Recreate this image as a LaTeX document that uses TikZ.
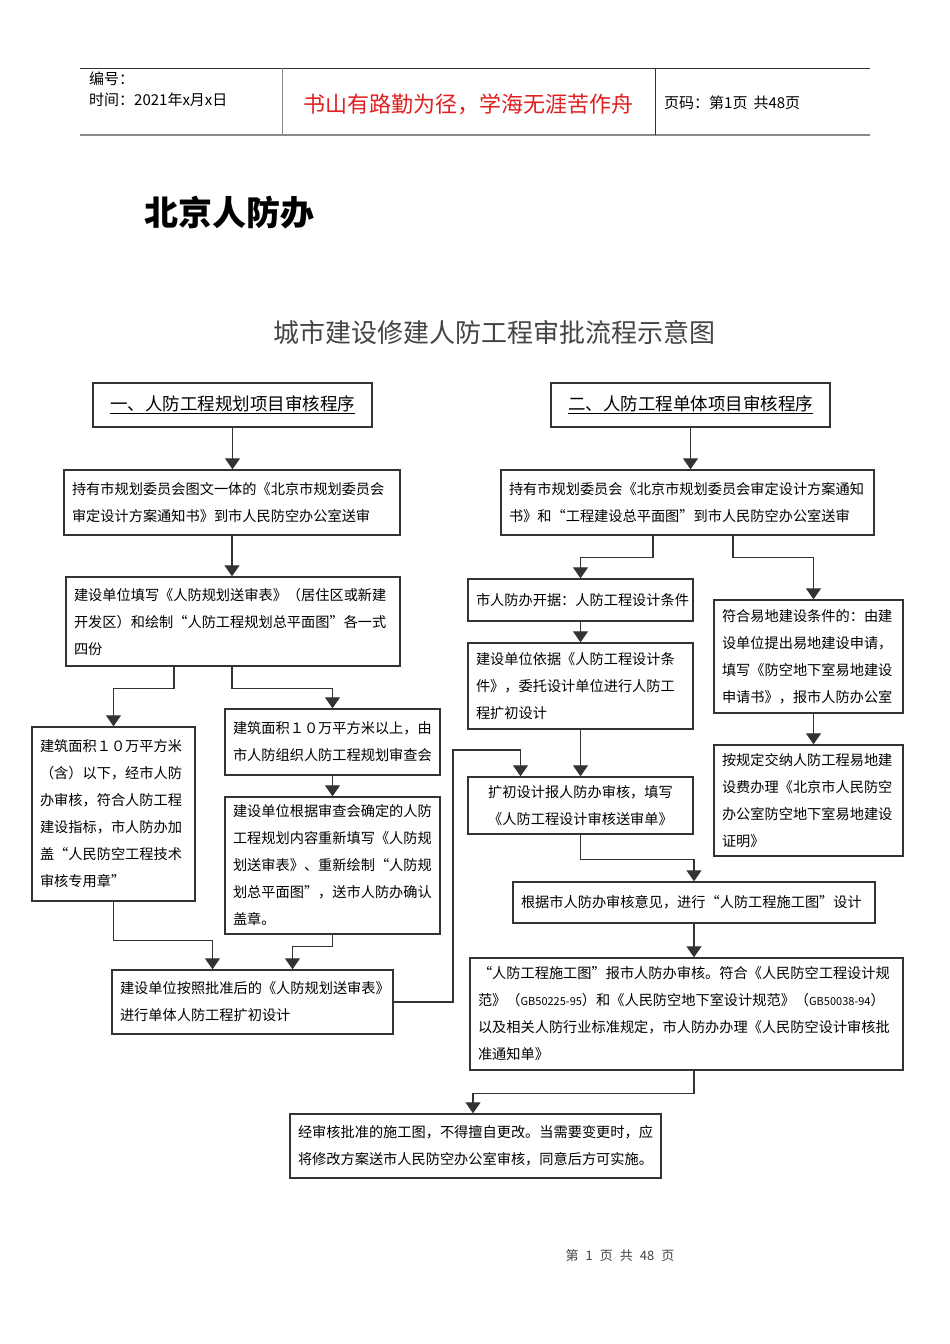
\documentclass[tikz,border=0pt]{standalone}
\usepackage{fontspec}
\setmainfont{Noto Sans CJK SC}
\usetikzlibrary{arrows.meta}
\definecolor{boxline}{HTML}{333333}
\definecolor{rulegray}{HTML}{8A8A8A}
\definecolor{mottored}{HTML}{E02020}
\definecolor{titlegray}{HTML}{444444}
\tikzset{
  stepbox/.style={draw=boxline, line width=1.4pt, inner xsep=8pt, inner ysep=0pt,
    align=left, font=\fontsize{14.2}{27}\selectfont},
  headbox/.style={draw=boxline, line width=1.4pt, minimum width=279pt, minimum height=44pt,
    font=\fontsize{17.5}{20}\selectfont},
  flow/.style={draw=boxline, line width=1.2pt, -{Triangle[width=15pt,length=11pt]}},
}
\begin{document}
\begin{tikzpicture}[x=1pt,y=-1pt]
    \path[fill=white, use as bounding box] (0,0) rectangle (950,1344);

    % 页眉
    \draw[boxline, line width=1pt] (80,68) -- (870,68);
    \draw[rulegray, line width=2pt] (80,135) -- (870,135);
    \draw[rulegray, line width=1pt] (282,68) -- (282,135);
    \draw[boxline, line width=1pt] (655,68) -- (655,135);
    \node[anchor=west, font=\fontsize{15}{18}\selectfont, inner sep=0pt] (hdid) at (89,79) {编号：};
    \node[anchor=west, font=\fontsize{15}{18}\selectfont, inner sep=0pt] (hdtime) at (89,100) {时间：2021年x月x日};
    \node[mottored, font=\fontsize{22}{26}\selectfont, inner sep=0pt] (hdmotto) at (468.5,104) {书山有路勤为径，学海无涯苦作舟};
    \node[anchor=west, font=\fontsize{15}{18}\selectfont, inner sep=0pt] (hdpage) at (664,103) {页码：第1页\hspace{6pt}共48页};

    % 标题
    \node[anchor=west, font=\fontsize{34}{40}\selectfont\bfseries, inner sep=0pt] (heading) at (144,213) {北京人防办};
    \node[titlegray, font=\fontsize{26}{30}\selectfont, inner sep=0pt] (title) at (494.5,333) {城市建设修建人防工程审批流程示意图};

    % 左列
    \node[headbox] (l0) at (232.5,405) {\underline{一、人防工程规划项目审核程序}};
    \node[stepbox, text width=320pt, minimum height=65pt] (l1) at (232,502.5)
        {持有市规划委员会图文一体的《北京市规划委员会\\审定设计方案通知书》到市人民防空办公室送审};
    \node[stepbox, text width=318pt, minimum height=89pt] (l2) at (233,621.5)
        {建设单位填写《人防规划送审表》（居住区或新建\\开发区）和绘制“人防工程规划总平面图”各一式\\四份};
    \node[stepbox, text width=147pt, minimum height=174pt] (l3) at (113.5,814)
        {建筑面积１０万平方米\\（含）以下，经市人防\\办审核，符合人防工程\\建设指标，市人防办加\\盖“人民防空工程技术\\审核专用章”};
    \node[stepbox, text width=199pt, minimum height=66pt] (l4) at (332.5,742)
        {建筑面积１０万平方米以上，由\\市人防组织人防工程规划审查会};
    \node[stepbox, text width=199pt, minimum height=137pt] (l5) at (332.5,865.5)
        {建设单位根据审查会确定的人防\\工程规划内容重新填写《人防规\\划送审表》、重新绘制“人防规\\划总平面图”，送市人防办确认\\盖章。};
    \node[stepbox, text width=265pt, minimum height=64pt] (l6) at (252.5,1002)
        {建设单位按照批准后的《人防规划送审表》\\进行单体人防工程扩初设计};

    % 右列
    \node[headbox] (r0) at (690.5,405) {\underline{二、人防工程单体项目审核程序}};
    \node[stepbox, text width=357pt, minimum height=65pt] (r1) at (687.5,502.5)
        {持有市规划委员会《北京市规划委员会审定设计方案通知\\书》和“工程建设总平面图”到市人民防空办公室送审};
    \node[stepbox, text width=209pt, minimum height=42pt] (r2) at (580.5,600)
        {市人防办开据：人防工程设计条件};
    \node[stepbox, text width=209pt, minimum height=86pt] (r3) at (580.5,686)
        {建设单位依据《人防工程设计条\\件》，委托设计单位进行人防工\\程扩初设计};
    \node[stepbox, align=center, text width=209pt, minimum height=57pt] (r4) at (580.5,805.5)
        {扩初设计报人防办审核，填写\\《人防工程设计审核送审单》};
    \node[stepbox, text width=346pt, minimum height=41pt] (r5) at (694,902.5)
        {根据市人防办审核意见，进行“人防工程施工图”设计};
    \node[stepbox, text width=417pt, minimum height=112pt] (r6) at (686.5,1014)
        {“人防工程施工图”报市人防办审核。符合《人民防空工程设计规\\范》（{\fontsize{11}{27}\selectfont GB50225-95}）和《人民防空地下室设计规范》（{\fontsize{11}{27}\selectfont GB50038-94}）\\以及相关人防行业标准规定，市人防办办理《人民防空设计审核批\\准通知单》};
    \node[stepbox, text width=173pt, minimum height=113pt] (s1) at (808.5,656.5)
        {符合易地建设条件的：由建\\设单位提出易地建设申请，\\填写《防空地下室易地建设\\申请书》，报市人防办公室};
    \node[stepbox, text width=173pt, minimum height=111pt] (s2) at (808.5,800.5)
        {按规定交纳人防工程易地建\\设费办理《北京市人民防空\\办公室防空地下室易地建设\\证明》};
    \node[stepbox, text width=355pt, minimum height=64pt] (fin) at (475.5,1146)
        {经审核批准的施工图，不得擅自更改。当需要变更时，应\\将修改方案送市人民防空办公室审核，同意后方可实施。};

    % 连线
    \draw[flow] (l0.south) -- (l0.south |- l1.north);
    \draw[flow] (l1.south) -- (l1.south |- l2.north);
    \draw[flow] ([xshift=-59]l2.south) -- ++(0,22) -| (l3.north);
    \draw[flow] ([xshift=-1]l2.south) -- ++(0,22) -| (l4.north);
    \draw[flow] (l4.south) -- (l5.north);
    \draw[flow] (l3.south) -- ++(0,39) -| ([xshift=-40]l6.north);
    \draw[flow] (l5.south) -- ++(0,12) -| ([xshift=40]l6.north);
    \coordinate (jog) at (453,750);
    \draw[flow] (l6.east) -| (jog) -| ([xshift=-60]r4.north);

    \draw[flow] (r0.south) -- (r0.south |- r1.north);
    \draw[flow] ([xshift=-34.5]r1.south) -- ++(0,22) -| (r2.north);
    \draw[flow] ([xshift=45.5]r1.south) -- ++(0,22) -| ([xshift=5]s1.north);
    \draw[flow] ([xshift=5]s1.south) -- ([xshift=5]s2.north);
    \draw[flow] (r2.south) -- (r3.north);
    \draw[flow] (r3.south) -- (r4.north);
    \draw[flow] (r4.south) -- ++(0,25) -| (r5.north);
    \draw[flow] (r5.south) -- (r5.south |- r6.north);
    \draw[flow] ([xshift=7.5]r6.south) -- ++(0,23) -| ([xshift=-2.5]fin.north);

    % 页脚
    \node[titlegray, font=\fontsize{13}{16}\selectfont, inner sep=0pt] (footer) at (620,1256)
        {第\hspace{7pt}1\hspace{7pt}页\hspace{7pt}共\hspace{7pt}48\hspace{7pt}页};
\end{tikzpicture}
\end{document}
